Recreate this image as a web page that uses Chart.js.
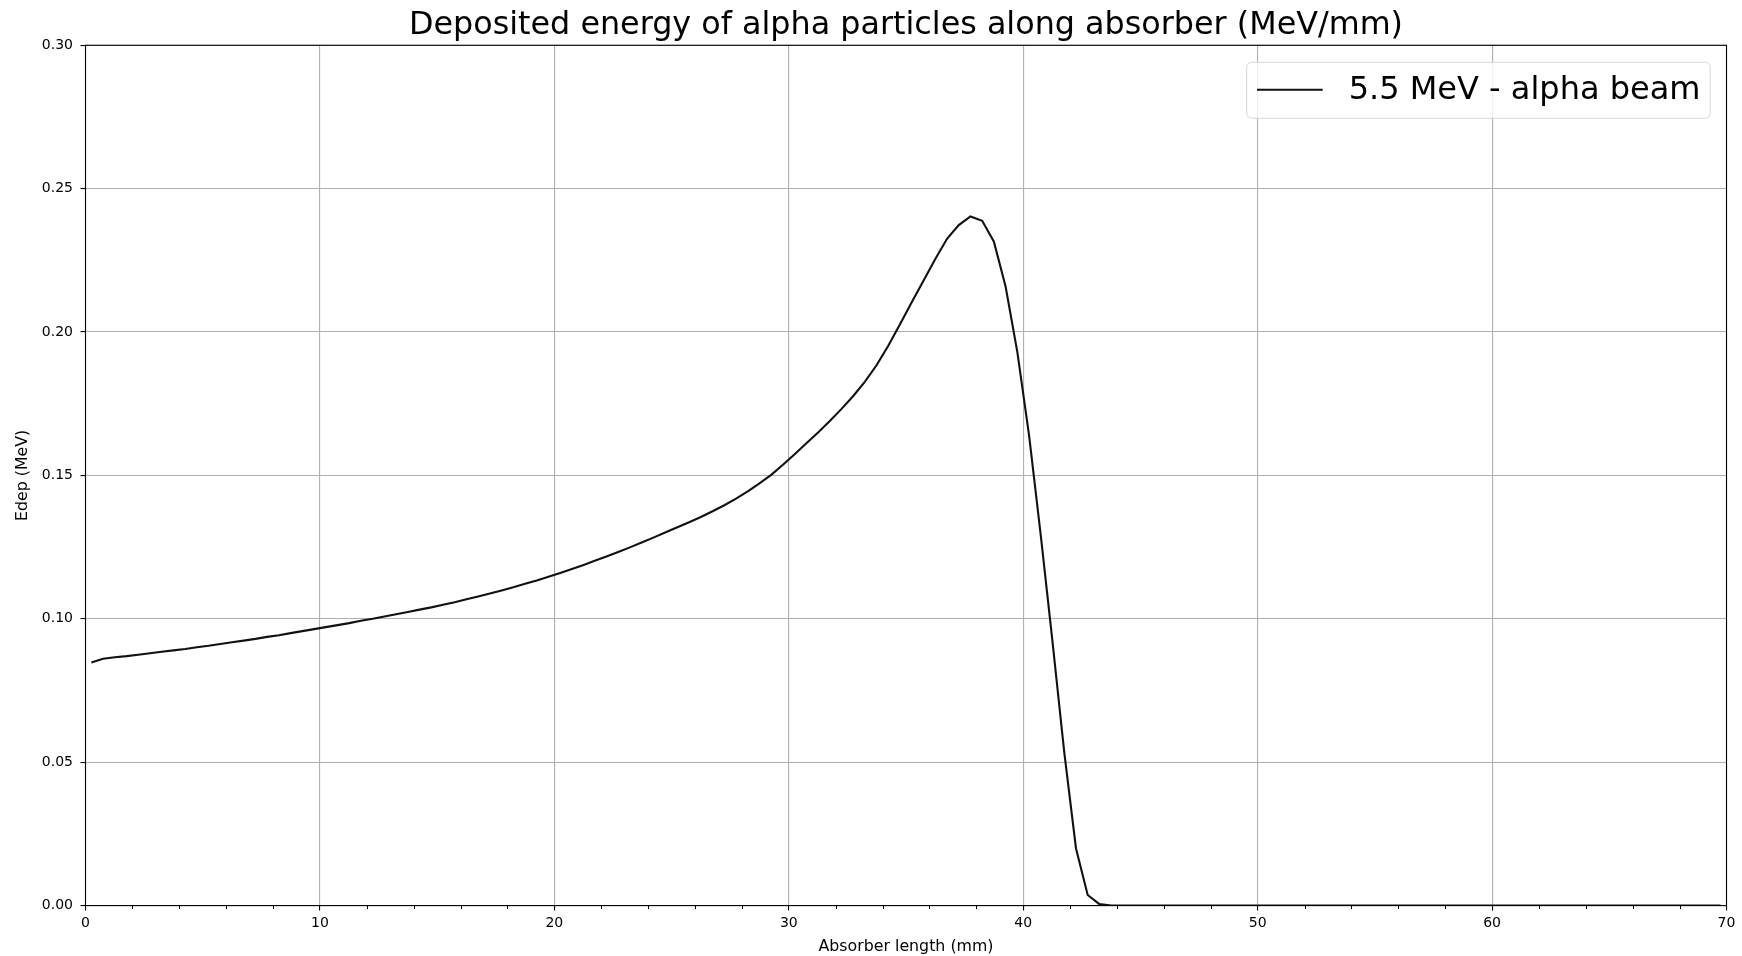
<!DOCTYPE html>
<html>
<head>
<meta charset="utf-8">
<script src="https://cdn.jsdelivr.net/npm/chart.js@4.4.0/dist/chart.umd.min.js"></script>
<style>
  html, body { margin: 0; padding: 0; background: #fff; }
  #wrap { width: 1742px; height: 956px; }
</style>
</head>
<body>
<div id="wrap"><canvas id="myChart" width="1742" height="956"></canvas></div>
<script>
// Bin centres along the absorber (mm)
const depth = [
    0.25, 0.75, 1.25, 1.75, 2.25, 2.75, 3.25, 3.75, 4.25, 4.75,
    5.25, 5.75, 6.25, 6.75, 7.25, 7.75, 8.25, 8.75, 9.25, 9.75,
    10.25, 10.75, 11.25, 11.75, 12.25, 12.75, 13.25, 13.75, 14.25, 14.75,
    15.25, 15.75, 16.25, 16.75, 17.25, 17.75, 18.25, 18.75, 19.25, 19.75,
    20.25, 20.75, 21.25, 21.75, 22.25, 22.75, 23.25, 23.75, 24.25, 24.75,
    25.25, 25.75, 26.25, 26.75, 27.25, 27.75, 28.25, 28.75, 29.25, 29.75,
    30.25, 30.75, 31.25, 31.75, 32.25, 32.75, 33.25, 33.75, 34.25, 34.75,
    35.25, 35.75, 36.25, 36.75, 37.25, 37.75, 38.25, 38.75, 39.25, 39.75,
    40.25, 40.75, 41.25, 41.75, 42.25, 42.75, 43.25, 43.75, 44.25, 44.75,
    45.25, 45.75, 46.25, 46.75, 47.25, 47.75, 48.25, 48.75, 49.25, 49.75,
    50.25, 50.75, 51.25, 51.75, 52.25, 52.75, 53.25, 53.75, 54.25, 54.75,
    55.25, 55.75, 56.25, 56.75, 57.25, 57.75, 58.25, 58.75, 59.25, 59.75,
    60.25, 60.75, 61.25, 61.75, 62.25, 62.75, 63.25, 63.75, 64.25, 64.75,
    65.25, 65.75, 66.25, 66.75, 67.25, 67.75, 68.25, 68.75, 69.25, 69.75
];

// Deposited energy per bin (MeV)
const edep = [
    0.0848, 0.0861, 0.0866, 0.0870, 0.0875, 0.0880, 0.0885, 0.0890, 0.0895, 0.0901,
    0.0906, 0.0912, 0.0918, 0.0924, 0.0930, 0.0937, 0.0943, 0.0950, 0.0957, 0.0964,
    0.0971, 0.0978, 0.0985, 0.0993, 0.1000, 0.1008, 0.1016, 0.1024, 0.1032, 0.1040,
    0.1049, 0.1058, 0.1068, 0.1078, 0.1088, 0.1099, 0.1110, 0.1122, 0.1134, 0.1147,
    0.1160, 0.1174, 0.1188, 0.1203, 0.1218, 0.1234, 0.1250, 0.1267, 0.1284, 0.1302,
    0.1319, 0.1337, 0.1355, 0.1375, 0.1396, 0.1419, 0.1444, 0.1472, 0.1502, 0.1537,
    0.1574, 0.1612, 0.1650, 0.1690, 0.1732, 0.1777, 0.1827, 0.1885, 0.1953, 0.2028,
    0.2105, 0.2180, 0.2255, 0.2325, 0.2373, 0.2403, 0.2388, 0.2315, 0.2158, 0.1930,
    0.1640, 0.1290, 0.0920, 0.0535, 0.0200, 0.0037, 0.0005, 0.0000, 0.0000, 0.0000,
    0, 0, 0, 0, 0, 0, 0, 0, 0, 0,
    0, 0, 0, 0, 0, 0, 0, 0, 0, 0,
    0, 0, 0, 0, 0, 0, 0, 0, 0, 0,
    0, 0, 0, 0, 0, 0, 0, 0, 0, 0,
    0, 0, 0, 0, 0, 0, 0, 0, 0, 0
];

const xTicks = [0, 10, 20, 30, 40, 50, 60, 70];
const xMinorTicks = [2, 4, 6, 8, 12, 14, 16, 18, 22, 24, 26, 28, 32, 34, 36, 38,
    42, 44, 46, 48, 52, 54, 56, 58, 62, 64, 66, 68];
const yTicks = [0, 0.05, 0.10, 0.15, 0.20, 0.25, 0.30];

Chart.defaults.font.family = 'DejaVu Sans';
Chart.defaults.color = '#000';

// black box round the plot area (all four spines)
const frame = {
    id: 'frame',
    afterDatasetsDraw(chart) {
        const a = chart.chartArea, ctx = chart.ctx;
        ctx.save();
        ctx.strokeStyle = '#000';
        ctx.lineWidth = 1.1;
        ctx.strokeRect(a.left, a.top, a.right - a.left, a.bottom - a.top);
        ctx.restore();
    }
};

// short minor ticks under the x axis
const minorTicks = {
    id: 'minorTicks',
    afterDraw(chart) {
        const sx = chart.scales.x, a = chart.chartArea, ctx = chart.ctx;
        ctx.save();
        ctx.strokeStyle = '#000';
        ctx.lineWidth = 1;
        xMinorTicks.forEach(v => {
            const px = Math.round(sx.getPixelForValue(v)) + 0.5;
            ctx.beginPath();
            ctx.moveTo(px, a.bottom);
            ctx.lineTo(px, a.bottom + 3.5);
            ctx.stroke();
        });
        ctx.restore();
    }
};

// matplotlib style legend box in the upper right
const legendBox = {
    id: 'legendBox',
    afterDraw(chart) {
        const ctx = chart.ctx, a = chart.chartArea, ds = chart.data.datasets[0];
        const w = 463.5, h = 56;
        const x = a.right - 16.3 - w, y = a.top + 17;
        ctx.save();
        ctx.beginPath();
        ctx.roundRect(x, y, w, h, 5);
        ctx.fillStyle = 'rgba(255,255,255,0.8)';
        ctx.fill();
        ctx.strokeStyle = '#d6d6d6';
        ctx.lineWidth = 1;
        ctx.stroke();
        const cy = y + h / 2;
        ctx.beginPath();
        ctx.moveTo(x + 10.3, cy - 0.5);
        ctx.lineTo(x + 76, cy - 0.5);
        ctx.strokeStyle = ds.borderColor;
        ctx.lineWidth = ds.borderWidth;
        ctx.stroke();
        ctx.fillStyle = '#000';
        ctx.font = '32px "DejaVu Sans"';
        ctx.textBaseline = 'middle';
        ctx.fillText(ds.label, x + 102, cy);
        ctx.restore();
    }
};

const ctx = document.getElementById('myChart').getContext('2d');
const myChart = new Chart(ctx, {
    type: 'line',
    data: {
        datasets: [{
            label: '5.5 MeV - alpha beam',
            data: depth.map((d, i) => ({ x: d, y: edep[i] })),
            borderColor: '#111111',
            borderWidth: 2.1,
            pointRadius: 0,
            tension: 0,
            fill: false
        }]
    },
    options: {
        responsive: false,
        animation: false,
        layout: { padding: { left: 0, right: 15.5, top: 0, bottom: 0 } },
        plugins: {
            legend: { display: false },
            tooltip: { enabled: false },
            title: {
                display: true,
                text: 'Deposited energy of alpha particles along absorber (MeV/mm)',
                fullSize: false,
                color: '#000',
                font: { size: 31.8, weight: 'normal' },
                padding: { top: 7.1, bottom: 0 }
            }
        },
        scales: {
            x: {
                type: 'linear',
                min: 0,
                max: 70,
                afterBuildTicks: s => { s.ticks = xTicks.map(v => ({ value: v })); },
                afterFit: s => { s.height = 50.4; },
                ticks: { font: { size: 14 }, color: '#000', padding: 4, maxRotation: 0 },
                grid: { color: '#b0b0b0', lineWidth: 1.1, tickColor: '#000', tickLength: 5 },
                border: { display: false },
                title: {
                    display: true,
                    text: 'Absorber length (mm)',
                    font: { size: 15.8 },
                    color: '#000',
                    padding: { top: 0, bottom: 0 }
                }
            },
            y: {
                type: 'linear',
                min: 0,
                max: 0.30,
                afterBuildTicks: s => { s.ticks = yTicks.map(v => ({ value: v })); },
                afterFit: s => { s.width = 85.5; },
                ticks: {
                    font: { size: 14 },
                    color: '#000',
                    padding: 7.5,
                    callback: v => v.toFixed(2)
                },
                grid: { color: '#b0b0b0', lineWidth: 1.1, tickColor: '#000', tickLength: 5 },
                border: { display: false },
                title: {
                    display: true,
                    text: 'Edep (MeV)',
                    font: { size: 15.8 },
                    color: '#000',
                    padding: { top: 13.5, bottom: 0 }
                }
            }
        }
    },
    plugins: [frame, minorTicks, legendBox]
});
</script>
</body>
</html>
